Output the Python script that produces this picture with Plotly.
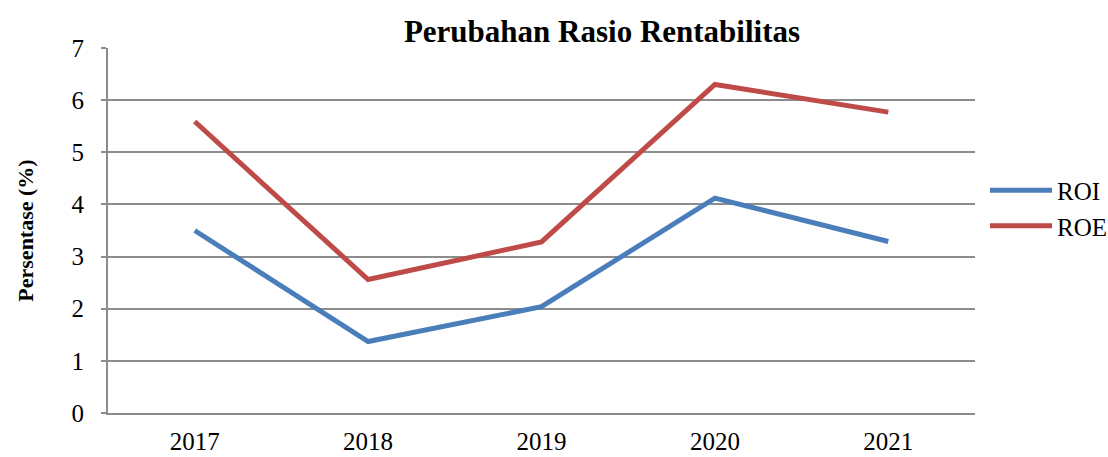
import plotly.graph_objects as go

years = ["2017", "2018", "2019", "2020", "2021"]
roi = [3.50, 1.37, 2.04, 4.12, 3.29]
roe = [5.59, 2.56, 3.28, 6.30, 5.77]

font_family = "Liberation Serif, Times New Roman, serif"
grid_col = "#8c8c8c"

fig = go.Figure()
fig.add_trace(go.Scatter(x=years, y=roi, mode="lines", name="ROI",
                         line=dict(color="#4A7EBB", width=5)))
fig.add_trace(go.Scatter(x=years, y=roe, mode="lines", name="ROE",
                         line=dict(color="#BE4B48", width=5)))

fig.update_layout(
    width=1108, height=457,
    margin=dict(l=108, r=133, t=48, b=44),
    paper_bgcolor="white", plot_bgcolor="white",
    font=dict(family=font_family, size=25, color="black"),
    title=dict(text="<b>Perubahan Rasio Rentabilitas</b>",
               font=dict(family=font_family, size=31, color="black"),
               x=602 / 1108, xanchor="center", xref="container",
               y=1 - 31 / 457, yref="container", yanchor="middle"),
    legend=dict(xref="container", x=985 / 1108, xanchor="left",
                yref="container", y=1 - 208 / 457, yanchor="middle",
                font=dict(family=font_family, size=25),
                tracegroupgap=0, itemwidth=62, bgcolor="rgba(0,0,0,0)"),
    showlegend=True,
)

fig.update_xaxes(type="category", range=[-0.5, 4.5], automargin=False,
                 showline=True, linecolor=grid_col, linewidth=2,
                 showgrid=False, zeroline=False, ticks="",
                 ticklabelstandoff=5,
                 tickfont=dict(family=font_family, size=25))
fig.update_yaxes(range=[0, 7], dtick=1, tick0=0, automargin=False,
                 showline=True, linecolor=grid_col, linewidth=2,
                 showgrid=True, gridcolor=grid_col, gridwidth=2,
                 zeroline=False, ticks="outside", ticklen=5,
                 tickcolor=grid_col, tickwidth=2,
                 ticklabelstandoff=12,
                 tickfont=dict(family=font_family, size=25),
                 title=dict(text="<b>Persentase (%)</b>",
                            font=dict(family=font_family, size=22),
                            standoff=32))

fig.write_html("out.html",
               config={"displayModeBar": False},
               post_script="document.body.style.margin='0px';document.body.style.padding='0px';")
